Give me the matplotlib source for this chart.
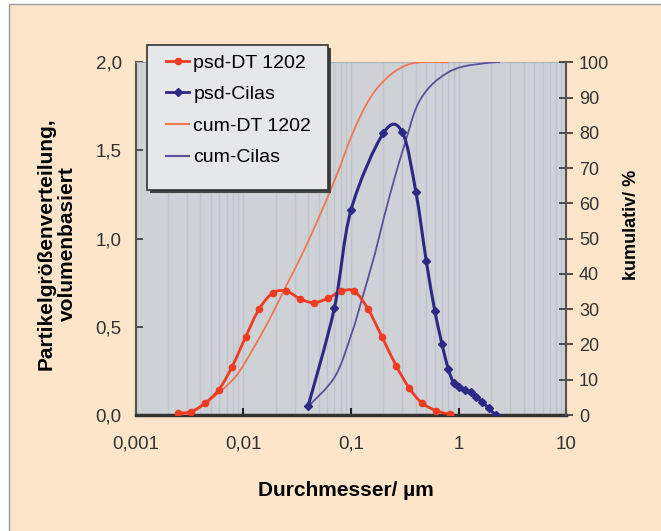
import numpy as np
import matplotlib
matplotlib.use("Agg")
import matplotlib.pyplot as plt
from matplotlib.path import Path
from matplotlib.patches import PathPatch, Rectangle
from matplotlib.lines import Line2D
from matplotlib.ticker import FixedLocator, FixedFormatter, LogLocator, NullFormatter

plt.rcParams['font.family'] = ['Liberation Sans', 'DejaVu Sans']

# ---- data ----
psd_dt_x = [0.00246, 0.00327, 0.00438, 0.00592, 0.00789, 0.0105, 0.01396, 0.01887,
            0.02517, 0.03368, 0.04487, 0.06063, 0.0807, 0.1074, 0.1432, 0.1933,
            0.2626, 0.349, 0.456, 0.620, 0.824]
psd_dt_y = [0.010, 0.019, 0.066, 0.143, 0.275, 0.442, 0.599, 0.693, 0.702, 0.659,
            0.637, 0.661, 0.702, 0.702, 0.603, 0.445, 0.279, 0.151, 0.068, 0.024, 0.004]

psd_cilas_x = [0.04, 0.07, 0.1, 0.2, 0.3, 0.4, 0.5, 0.6, 0.7, 0.8, 0.9, 1.0,
               1.15, 1.3, 1.45, 1.65, 1.9, 2.2]
psd_cilas_y = [0.051, 0.605, 1.162, 1.599, 1.603, 1.266, 0.873, 0.591, 0.401, 0.261,
               0.180, 0.157, 0.142, 0.130, 0.104, 0.075, 0.038, 0.0]

cum_dt_x = [0.00241, 0.0032, 0.00426, 0.00608, 0.00869, 0.0124, 0.0177, 0.0253,
            0.0361, 0.0515, 0.0736, 0.105, 0.150, 0.214, 0.306, 0.437, 0.8]
cum_dt_y = [0.0, 0.5, 2.8, 6.6, 11.3, 18.9, 27.4, 36.9, 46.3, 56.7, 68.0, 80.3,
            89.8, 95.5, 98.8, 100.0, 100.0]

cum_cilas_x = [0.04, 0.071, 0.1016, 0.1257, 0.167, 0.1995, 0.256, 0.317, 0.407,
               0.541, 0.774, 1.10, 1.95, 2.42]
cum_cilas_y = [2.4, 10.9, 23.2, 32.6, 45.8, 55.3, 67.6, 77.0, 87.4, 93.1, 96.9,
               98.8, 99.9, 100.0]

x_ticks = [0.001, 0.01, 0.1, 1, 10]
x_tick_labels = ["0,001", "0,01", "0,1", "1", "10"]
y_ticks = [0.0, 0.5, 1.0, 1.5, 2.0]
y_tick_labels = ["0,0", "0,5", "1,0", "1,5", "2,0"]
y2_ticks = [0, 10, 20, 30, 40, 50, 60, 70, 80, 90, 100]
y2_tick_labels = [str(v) for v in y2_ticks]

labels = ["psd-DT 1202", "psd-Cilas", "cum-DT 1202", "cum-Cilas"]

RED = "#ee3b22"
NAVY = "#2b2886"
ORANGE = "#ef7752"
PURPLE = "#5c4f9c"


def smooth_path(xs, ys):
    """Excel-style smoothed line: Catmull-Rom Bezier in (log x, y) space."""
    lx = np.log10(np.asarray(xs, float))
    y = np.asarray(ys, float)
    n = len(lx)
    verts = [(xs[0], ys[0])]
    codes = [Path.MOVETO]
    for i in range(n - 1):
        p0 = i - 1 if i > 0 else i
        p3 = i + 2 if i + 2 < n else i + 1
        c1x = lx[i] + (lx[i + 1] - lx[p0]) / 6
        c1y = y[i] + (y[i + 1] - y[p0]) / 6
        c2x = lx[i + 1] - (lx[p3] - lx[i]) / 6
        c2y = y[i + 1] - (y[p3] - y[i]) / 6
        verts += [(10 ** c1x, c1y), (10 ** c2x, c2y), (xs[i + 1], ys[i + 1])]
        codes += [Path.CURVE4] * 3
    return Path(verts, codes)


W, H = 661, 531
fig = plt.figure(figsize=(W / 100, H / 100), dpi=100)
fig.patch.set_facecolor("white")
fig.patches.append(Rectangle((9 / W, -0.02), 1.0, 1 - 4 / H + 0.02,
                             transform=fig.transFigure, facecolor="#fde5ca",
                             edgecolor="#9a9a9a", linewidth=1.0, zorder=-10))

ax = fig.add_axes([135.6 / W, (H - 415) / H, 430.8 / W, 352.7 / H])
ax.set_facecolor("#ced2d7")
ax.set_xscale("log")
ax.set_xlim(0.001, 10)
ax.set_ylim(0, 2.0)

# vertical grid
ax.xaxis.set_minor_locator(LogLocator(base=10, subs=np.arange(2, 10)))
ax.xaxis.set_minor_formatter(NullFormatter())
ax.grid(True, axis="x", which="both", color="#bfc3c9", linewidth=1.0)
ax.set_axisbelow(True)

ax.xaxis.set_major_locator(FixedLocator(x_ticks))
ax.xaxis.set_major_formatter(FixedFormatter(x_tick_labels))
ax.yaxis.set_major_locator(FixedLocator(y_ticks))
ax.yaxis.set_major_formatter(FixedFormatter(y_tick_labels))
ax.tick_params(axis="x", which="major", direction="in", length=5, width=1.5,
               color="#222", labelsize=13.5, labelcolor="#333", pad=15)
ax.tick_params(axis="x", which="minor", length=0)
ax.tick_params(axis="y", direction="in", length=5, width=1.2, color="#333",
               labelsize=13.5, labelcolor="#333", pad=10)

for s in ("left", "right"):
    ax.spines[s].set_color("#555")
    ax.spines[s].set_linewidth(1.5)
ax.spines["bottom"].set_color("#333")
ax.spines["bottom"].set_linewidth(2.5)
ax.spines["top"].set_color("#aab0b8")
ax.spines["top"].set_linewidth(0.8)

ax2 = ax.twinx()
ax2.set_ylim(0, 100)
ax2.yaxis.set_major_locator(FixedLocator(y2_ticks))
ax2.yaxis.set_major_formatter(FixedFormatter(y2_tick_labels))
ax2.tick_params(axis="y", direction="inout", length=10, width=1.2, color="#333",
                labelsize=13, labelcolor="#333", pad=4)
for s in ("left", "top", "bottom"):
    ax2.spines[s].set_visible(False)
ax2.spines["right"].set_color("#555")
ax2.spines["right"].set_linewidth(1.5)

# cumulative curves (right axis)
ax2.add_patch(PathPatch(smooth_path(cum_dt_x, cum_dt_y), facecolor="none",
                        edgecolor=ORANGE, linewidth=1.3, zorder=2))
ax2.add_patch(PathPatch(smooth_path(cum_cilas_x, cum_cilas_y), facecolor="none",
                        edgecolor=PURPLE, linewidth=1.3, zorder=2))

# psd curves (left axis), drawn on ax2 with ax's data transform to stay on top
ax2.add_patch(PathPatch(smooth_path(psd_dt_x, psd_dt_y), facecolor="none",
                        edgecolor=RED, linewidth=2.0, zorder=3,
                        transform=ax.transData))
ax2.plot(psd_dt_x, psd_dt_y, linestyle="none", marker="o", markersize=4.5,
         color=RED, zorder=4, transform=ax.transData)
ax2.add_patch(PathPatch(smooth_path(psd_cilas_x, psd_cilas_y), facecolor="none",
                        edgecolor=NAVY, linewidth=2.2, zorder=3,
                        transform=ax.transData))
ax2.plot(psd_cilas_x, psd_cilas_y, linestyle="none", marker="D", markersize=4,
         color=NAVY, zorder=4, transform=ax.transData)

ax.set_xlabel("Durchmesser/ µm", fontsize=15, fontweight="bold")
ax.xaxis.set_label_coords((346 - 135.6) / 430.8, -(490 - 415) / 352.7)
ax.set_ylabel("Partikelgrößenverteilung,\nvolumenbasiert", fontsize=15,
              fontweight="bold", linespacing=1.15)
ax.yaxis.set_label_coords((57 - 135.6) / 430.8, 0.485)
ax2.set_ylabel("kumulativ/ %", fontsize=13, fontweight="bold")
ax2.yaxis.set_label_coords((632 - 135.6) / 430.8, 0.54)
ax.xaxis.label.set_va("center")
ax.yaxis.label.set_va("center")
ax2.yaxis.label.set_va("center")

# legend frame drawn explicitly (with shadow)
shadow = Rectangle((150 / W, 1 - 193 / H), 181 / W, 145 / H, transform=fig.transFigure,
                   facecolor="#444444", edgecolor="none", zorder=8, clip_on=False)
frame = Rectangle((147 / W, 1 - 190 / H), 181 / W, 145 / H, transform=fig.transFigure,
                  facecolor="#e6e7e9", edgecolor="#333333", linewidth=1.2,
                  zorder=9, clip_on=False)
ax2.add_artist(shadow)
ax2.add_artist(frame)

handles = [
    Line2D([], [], color=RED, linewidth=2, marker="o", markersize=4.5),
    Line2D([], [], color=NAVY, linewidth=2, marker="D", markersize=4),
    Line2D([], [], color=ORANGE, linewidth=1.5),
    Line2D([], [], color=PURPLE, linewidth=1.5),
]
leg = ax2.legend(handles, labels, loc="upper left",
                 bbox_to_anchor=(166 / W, 1 - 54 / H), bbox_transform=fig.transFigure,
                 fontsize=14, frameon=False, borderpad=0, borderaxespad=0,
                 labelspacing=0.72, handlelength=1.2, handletextpad=0.2)
leg.set_zorder(10)

fig.savefig("out.png", dpi=100, facecolor=fig.get_facecolor())
